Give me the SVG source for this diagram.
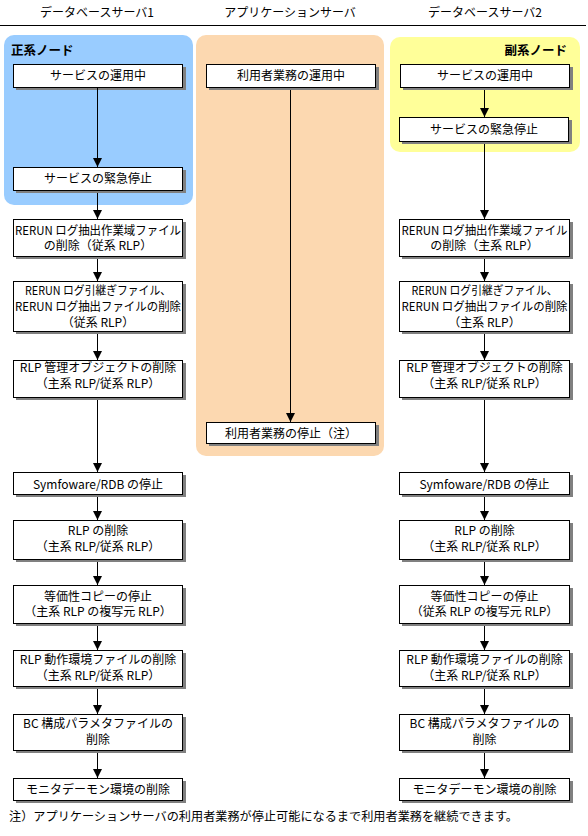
<svg xmlns="http://www.w3.org/2000/svg" width="588" height="836" viewBox="0 0 588 836">
<style>
text{font-family:"Noto Sans CJK JP","Noto Sans CJK SC",sans-serif;font-size:12px;fill:#000}
.c{text-anchor:middle}
.b{font-weight:bold;font-size:12.5px}
.box{fill:#fff;stroke:#000;stroke-width:1}
.sh{fill:#808080}
.ln{stroke:#000;stroke-width:1;fill:none}
</style>
<defs>
<marker id="ah" markerUnits="userSpaceOnUse" markerWidth="10" markerHeight="10" refX="9" refY="5" orient="auto" viewBox="0 0 10 10">
<path d="M0,0.5 L0,9.5 L9,5 Z" fill="#000"/>
</marker>
</defs>
<rect width="588" height="836" fill="#fff"/>

<g id="headers">
<text class="c" x="97" y="17">データベースサーバ1</text>
<text class="c" x="290" y="17">アプリケーションサーバ</text>
<text class="c" x="485" y="17">データベースサーバ2</text>
<line x1="0" y1="25.5" x2="586" y2="25.5" stroke="#000" stroke-width="1"/>
</g>

<g id="regions">
<rect id="primary-region" x="4" y="35" width="189" height="170" rx="10" fill="#99CCFF"/>
<rect id="app-region" x="196" y="35" width="188" height="421" rx="10" fill="#FCD8B0"/>
<rect id="secondary-region" x="390" y="37" width="190" height="115" rx="10" fill="#FFFF99"/>
<text class="b" x="11" y="55">正系ノード</text>
<text class="b" x="567" y="55" text-anchor="end">副系ノード</text>
</g>

<!-- Left column -->
<g id="l1"><rect class="sh" x="16" y="67" width="170" height="23"/><rect class="box" x="13.5" y="64.5" width="169" height="23"/><text class="c" x="98" y="80">サービスの運用中</text></g>
<g id="l2"><rect class="sh" x="16" y="170" width="170" height="23"/><rect class="box" x="13.5" y="167.5" width="169" height="23"/><text class="c" x="98" y="183">サービスの緊急停止</text></g>
<g id="l3"><rect class="sh" x="16" y="222" width="170" height="37"/><rect class="box" x="13.5" y="219.5" width="169" height="37"/><text class="c" x="98" y="234.5" textLength="166" lengthAdjust="spacingAndGlyphs">RERUN ログ抽出作業域ファイル</text><text class="c" x="98" y="250">の削除（従系 RLP）</text></g>
<g id="l4"><rect class="sh" x="16" y="284" width="170" height="50"/><rect class="box" x="13.5" y="281.5" width="169" height="50"/><text class="c" x="98" y="294.5" textLength="146" lengthAdjust="spacingAndGlyphs">RERUN ログ引継ぎファイル、</text><text class="c" x="98" y="311" textLength="166" lengthAdjust="spacingAndGlyphs">RERUN ログ抽出ファイルの削除</text><text class="c" x="98" y="327">（従系 RLP）</text></g>
<g id="l5"><rect class="sh" x="16" y="363" width="170" height="37"/><rect class="box" x="13.5" y="360.5" width="169" height="37"/><text class="c" x="98" y="372">RLP 管理オブジェクトの削除</text><text class="c" x="98" y="388">（主系 RLP/従系 RLP）</text></g>
<g id="l6"><rect class="sh" x="16" y="475" width="170" height="22"/><rect class="box" x="13.5" y="472.5" width="169" height="22"/><text class="c" x="98" y="489">Symfoware/RDB の停止</text></g>
<g id="l7"><rect class="sh" x="16" y="523" width="170" height="39"/><rect class="box" x="13.5" y="520.5" width="169" height="39"/><text class="c" x="98" y="535">RLP の削除</text><text class="c" x="98" y="551">（主系 RLP/従系 RLP）</text></g>
<g id="l8"><rect class="sh" x="16" y="588" width="170" height="38"/><rect class="box" x="13.5" y="585.5" width="169" height="38"/><text class="c" x="98" y="600.5">等価性コピーの停止</text><text class="c" x="98" y="616">（主系 RLP の複写元 RLP）</text></g>
<g id="l9"><rect class="sh" x="16" y="653" width="170" height="36"/><rect class="box" x="13.5" y="650.5" width="169" height="36"/><text class="c" x="98" y="664">RLP 動作環境ファイルの削除</text><text class="c" x="98" y="679.5">（主系 RLP/従系 RLP）</text></g>
<g id="l10"><rect class="sh" x="16" y="717" width="170" height="36"/><rect class="box" x="13.5" y="714.5" width="169" height="36"/><text class="c" x="98" y="728">BC 構成パラメタファイルの</text><text class="c" x="98" y="744">削除</text></g>
<g id="l11"><rect class="sh" x="16" y="781" width="170" height="22"/><rect class="box" x="13.5" y="778.5" width="169" height="22"/><text class="c" x="98" y="793.5">モニタデーモン環境の削除</text></g>

<!-- Center column -->
<g id="c1"><rect class="sh" x="209" y="67" width="170" height="23"/><rect class="box" x="206.5" y="64.5" width="169" height="23"/><text class="c" x="291" y="80">利用者業務の運用中</text></g>
<g id="c2"><rect class="sh" x="209" y="425" width="170" height="21"/><rect class="box" x="206.5" y="422.5" width="169" height="21"/><text class="c" x="291" y="437.5">利用者業務の停止（注）</text></g>

<!-- Right column -->
<g id="r1"><rect class="sh" x="403" y="67" width="170" height="23"/><rect class="box" x="400.5" y="64.5" width="169" height="23"/><text class="c" x="485" y="80">サービスの運用中</text></g>
<g id="r2"><rect class="sh" x="402" y="120" width="170" height="24"/><rect class="box" x="399.5" y="117.5" width="169" height="24"/><text class="c" x="484" y="134">サービスの緊急停止</text></g>
<g id="r3"><rect class="sh" x="402" y="222" width="171" height="37"/><rect class="box" x="399.5" y="219.5" width="170" height="37"/><text class="c" x="484.5" y="234.5" textLength="166" lengthAdjust="spacingAndGlyphs">RERUN ログ抽出作業域ファイル</text><text class="c" x="484.5" y="250">の削除（主系 RLP）</text></g>
<g id="r4"><rect class="sh" x="402" y="284" width="171" height="50"/><rect class="box" x="399.5" y="281.5" width="170" height="50"/><text class="c" x="484.5" y="294.5" textLength="146" lengthAdjust="spacingAndGlyphs">RERUN ログ引継ぎファイル、</text><text class="c" x="484.5" y="311" textLength="166" lengthAdjust="spacingAndGlyphs">RERUN ログ抽出ファイルの削除</text><text class="c" x="484.5" y="327">（主系 RLP）</text></g>
<g id="r5"><rect class="sh" x="402" y="363" width="171" height="37"/><rect class="box" x="399.5" y="360.5" width="170" height="37"/><text class="c" x="484.5" y="372">RLP 管理オブジェクトの削除</text><text class="c" x="484.5" y="388">（主系 RLP/従系 RLP）</text></g>
<g id="r6"><rect class="sh" x="402" y="475" width="171" height="22"/><rect class="box" x="399.5" y="472.5" width="170" height="22"/><text class="c" x="484.5" y="489">Symfoware/RDB の停止</text></g>
<g id="r7"><rect class="sh" x="402" y="523" width="171" height="39"/><rect class="box" x="399.5" y="520.5" width="170" height="39"/><text class="c" x="484.5" y="535">RLP の削除</text><text class="c" x="484.5" y="551">（主系 RLP/従系 RLP）</text></g>
<g id="r8"><rect class="sh" x="402" y="588" width="171" height="38"/><rect class="box" x="399.5" y="585.5" width="170" height="38"/><text class="c" x="484.5" y="600.5">等価性コピーの停止</text><text class="c" x="484.5" y="616">（従系 RLP の複写元 RLP）</text></g>
<g id="r9"><rect class="sh" x="402" y="653" width="171" height="36"/><rect class="box" x="399.5" y="650.5" width="170" height="36"/><text class="c" x="484.5" y="664">RLP 動作環境ファイルの削除</text><text class="c" x="484.5" y="679.5">（主系 RLP/従系 RLP）</text></g>
<g id="r10"><rect class="sh" x="402" y="717" width="171" height="36"/><rect class="box" x="399.5" y="714.5" width="170" height="36"/><text class="c" x="484.5" y="728">BC 構成パラメタファイルの</text><text class="c" x="484.5" y="744">削除</text></g>
<g id="r11"><rect class="sh" x="402" y="781" width="171" height="22"/><rect class="box" x="399.5" y="778.5" width="170" height="22"/><text class="c" x="484.5" y="793.5">モニタデーモン環境の削除</text></g>

<g id="connectors">
<line class="ln" x1="97.5" y1="88" x2="97.5" y2="167" marker-end="url(#ah)"/>
<line class="ln" x1="97.5" y1="193" x2="97.5" y2="219" marker-end="url(#ah)"/>
<line class="ln" x1="97.5" y1="259" x2="97.5" y2="281" marker-end="url(#ah)"/>
<line class="ln" x1="97.5" y1="334" x2="97.5" y2="360" marker-end="url(#ah)"/>
<line class="ln" x1="97.5" y1="400" x2="97.5" y2="472" marker-end="url(#ah)"/>
<line class="ln" x1="97.5" y1="497" x2="97.5" y2="520" marker-end="url(#ah)"/>
<line class="ln" x1="97.5" y1="562" x2="97.5" y2="585" marker-end="url(#ah)"/>
<line class="ln" x1="97.5" y1="626" x2="97.5" y2="650" marker-end="url(#ah)"/>
<line class="ln" x1="97.5" y1="689" x2="97.5" y2="714" marker-end="url(#ah)"/>
<line class="ln" x1="97.5" y1="753" x2="97.5" y2="778" marker-end="url(#ah)"/>

<line class="ln" x1="290.5" y1="90" x2="290.5" y2="422" marker-end="url(#ah)"/>

<line class="ln" x1="484.5" y1="90" x2="484.5" y2="117" marker-end="url(#ah)"/>
<line class="ln" x1="484.5" y1="144" x2="484.5" y2="219" marker-end="url(#ah)"/>
<line class="ln" x1="484.5" y1="259" x2="484.5" y2="281" marker-end="url(#ah)"/>
<line class="ln" x1="484.5" y1="334" x2="484.5" y2="360" marker-end="url(#ah)"/>
<line class="ln" x1="484.5" y1="400" x2="484.5" y2="472" marker-end="url(#ah)"/>
<line class="ln" x1="484.5" y1="497" x2="484.5" y2="520" marker-end="url(#ah)"/>
<line class="ln" x1="484.5" y1="562" x2="484.5" y2="585" marker-end="url(#ah)"/>
<line class="ln" x1="484.5" y1="626" x2="484.5" y2="650" marker-end="url(#ah)"/>
<line class="ln" x1="484.5" y1="689" x2="484.5" y2="714" marker-end="url(#ah)"/>
<line class="ln" x1="484.5" y1="753" x2="484.5" y2="778" marker-end="url(#ah)"/>
</g>

<g id="footnote"><text x="9" y="821" textLength="509" lengthAdjust="spacingAndGlyphs">注）アプリケーションサーバの利用者業務が停止可能になるまで利用者業務を継続できます。</text></g>
</svg>
